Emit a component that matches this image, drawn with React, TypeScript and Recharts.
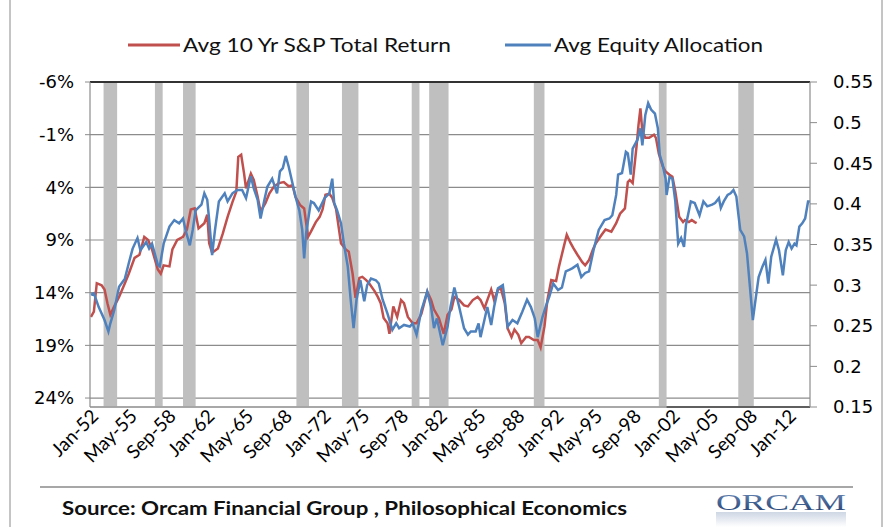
import {
  CartesianGrid,
  Line,
  LineChart,
  ReferenceArea,
  ReferenceLine,
  XAxis,
  YAxis,
} from 'recharts';

const MONTHS = ['Jan', 'Feb', 'Mar', 'Apr', 'May', 'Jun', 'Jul', 'Aug', 'Sep', 'Oct', 'Nov', 'Dec'];

const xTickLabels = [
  'Jan-52', 'May-55', 'Sep-58', 'Jan-62', 'May-65', 'Sep-68', 'Jan-72', 'May-75', 'Sep-78', 'Jan-82',
  'May-85', 'Sep-88', 'Jan-92', 'May-95', 'Sep-98', 'Jan-02', 'May-05', 'Sep-08', 'Jan-12',
];
const returnTicks = [-6, -1, 4, 9, 14, 19, 24];
const allocationTicks = [0.15, 0.2, 0.25, 0.3, 0.35, 0.4, 0.45, 0.5, 0.55];

// recession shading (start / end month)
const recessionStart = ['1953-03', '1957-08', '1960-01', '1969-10', '1973-09', '1979-09', '1981-03', '1990-03', '2000-12', '2007-10'];
const recessionEnd = ['1954-05', '1958-04', '1961-02', '1970-11', '1975-02', '1980-05', '1982-11', '1991-02', '2001-08', '2009-02'];

// Avg 10 Yr S&P Total Return (%), plotted on an inverted axis
const returnDates = [
  '1952-02', '1952-05', '1952-08', '1953-01', '1953-04', '1953-07', '1953-10', '1954-02', '1954-07', '1955-01',
  '1955-05', '1955-11', '1956-04', '1956-09', '1957-01', '1957-05', '1957-11', '1958-02', '1958-05', '1958-11',
  '1959-02', '1959-07', '1960-01', '1960-05', '1960-09', '1961-01', '1961-05', '1961-11', '1962-02', '1962-04',
  '1962-07', '1963-01', '1963-06', '1963-11', '1964-04', '1964-08', '1964-10', '1965-01', '1965-04', '1965-06',
  '1965-11', '1966-02', '1966-06', '1966-09', '1967-02', '1967-06', '1967-11', '1968-04', '1968-09', '1969-02',
  '1969-06', '1969-09', '1970-02', '1970-06', '1970-10', '1971-01', '1971-06', '1971-10', '1972-01', '1972-04',
  '1972-08', '1972-11', '1973-03', '1973-08', '1974-01', '1974-04', '1974-08', '1974-11', '1975-03', '1975-06',
  '1975-10', '1976-01', '1976-07', '1976-10', '1977-01', '1977-04', '1977-08', '1977-10', '1978-02', '1978-06',
  '1978-10', '1979-01', '1979-05', '1979-10', '1980-02', '1980-07', '1981-01', '1981-05', '1981-08', '1982-01',
  '1982-06', '1982-10', '1983-02', '1983-05', '1983-10', '1984-03', '1984-07', '1984-12', '1985-05', '1985-08',
  '1985-12', '1986-03', '1986-07', '1986-10', '1987-02', '1987-05', '1987-09', '1987-12', '1988-04', '1988-07',
  '1988-11', '1989-02', '1989-07', '1989-10', '1990-03', '1990-07', '1990-10', '1991-02', '1991-05', '1991-09',
  '1992-02', '1992-05', '1992-10', '1993-01', '1993-05', '1993-08', '1993-12', '1994-05', '1994-08', '1994-12',
  '1995-04', '1995-07', '1996-01', '1996-05', '1996-11', '1997-04', '1997-08', '1998-01', '1998-04', '1998-06',
  '1998-09', '1999-01', '1999-03', '1999-05', '1999-07', '1999-10', '2000-02', '2000-07', '2000-09', '2000-12',
  '2001-04', '2001-07', '2001-11', '2002-02', '2002-05', '2002-09', '2003-01', '2003-03', '2003-07', '2003-10',
  '2004-01', '2004-03',
];
const returnValues = [
  16.3, 15.8, 13.1, 13.3, 13.7, 15.0, 16.1, 15.3, 14.4, 13.1,
  12.2, 10.7, 10.4, 8.7, 9.0, 9.9, 11.8, 12.2, 11.4, 11.5,
  9.9, 9.0, 8.7, 8.0, 6.1, 6.0, 7.9, 7.4, 6.6, 9.3,
  10.2, 9.8, 8.4, 6.8, 5.4, 4.4, 1.1, 0.9, 2.7, 4.1,
  2.7, 3.3, 4.9, 6.3, 5.5, 4.6, 3.9, 3.6, 3.5, 3.9,
  3.8, 4.9, 5.7, 6.0, 8.7, 8.2, 7.3, 6.8, 6.1, 4.7,
  4.6, 5.0, 6.1, 9.3, 9.9, 10.1, 12.2, 14.5, 12.6, 12.5,
  12.8, 13.1, 13.9, 14.4, 15.0, 16.4, 16.9, 17.9, 15.3, 16.3,
  14.7, 15.0, 16.3, 16.9, 16.9, 16.0, 13.9, 14.7, 15.6, 16.4,
  17.9, 16.1, 15.6, 14.4, 14.7, 15.2, 15.3, 14.7, 14.4, 14.7,
  15.5, 14.7, 13.7, 14.7, 13.7, 13.6, 15.0, 17.4, 18.2, 17.5,
  18.0, 18.8, 18.2, 18.2, 18.5, 18.5, 19.2, 17.2, 14.7, 12.8,
  12.9, 11.5, 9.6, 8.5, 9.3, 9.8, 10.4, 11.1, 11.4, 10.9,
  9.9, 9.3, 8.5, 8.0, 8.2, 7.4, 6.5, 6.0, 3.5, 3.3,
  3.6, 0.1, -1.9, -3.5, -1.3, -0.7, -0.7, -1.0, -0.7, 0.8,
  2.0, 2.5, 2.8, 3.0, 4.4, 6.8, 7.3, 7.1, 7.3, 7.1,
  7.3, 7.4,
];

// Avg Equity Allocation
const allocationDates = [
  '1952-02', '1952-05', '1952-10', '1953-04', '1953-08', '1953-10', '1954-02', '1954-07', '1955-01', '1955-05',
  '1955-09', '1956-02', '1956-05', '1956-11', '1957-02', '1957-05', '1957-11', '1958-01', '1958-05', '1958-11',
  '1959-04', '1959-09', '1960-01', '1960-04', '1960-08', '1960-11', '1961-02', '1961-08', '1961-11', '1962-02',
  '1962-04', '1962-07', '1962-10', '1963-02', '1963-08', '1963-11', '1964-04', '1964-09', '1965-02', '1965-06',
  '1965-11', '1966-02', '1966-06', '1966-09', '1967-01', '1967-04', '1967-09', '1968-02', '1968-05', '1968-08',
  '1968-11', '1969-02', '1969-06', '1969-09', '1970-01', '1970-04', '1970-06', '1970-08', '1971-01', '1971-04',
  '1971-09', '1972-03', '1972-08', '1972-11', '1973-01', '1973-04', '1973-08', '1973-11', '1974-03', '1974-06',
  '1974-09', '1974-12', '1975-04', '1975-08', '1975-11', '1976-03', '1976-08', '1976-11', '1977-03', '1977-08',
  '1978-01', '1978-05', '1978-08', '1979-01', '1979-07', '1979-10', '1980-02', '1980-07', '1981-01', '1981-05',
  '1981-08', '1981-11', '1982-05', '1982-10', '1983-01', '1983-05', '1983-10', '1984-03', '1984-07', '1984-10',
  '1985-03', '1985-06', '1985-08', '1985-12', '1986-03', '1986-07', '1986-10', '1987-02', '1987-07', '1987-09',
  '1987-12', '1988-05', '1988-10', '1989-03', '1989-08', '1989-12', '1990-04', '1990-07', '1990-12', '1991-04',
  '1991-07', '1991-11', '1992-04', '1992-08', '1992-12', '1993-04', '1993-07', '1993-12', '1994-04', '1994-08',
  '1994-12', '1995-05', '1995-10', '1996-04', '1996-09', '1996-12', '1997-04', '1997-06', '1997-10', '1998-02',
  '1998-04', '1998-07', '1998-09', '1999-02', '1999-05', '1999-07', '1999-10', '2000-01', '2000-04', '2000-08',
  '2000-11', '2001-01', '2001-04', '2001-07', '2001-08', '2001-11', '2002-02', '2002-05', '2002-08', '2002-11',
  '2003-02', '2003-04', '2003-09', '2004-01', '2004-06', '2004-10', '2005-02', '2005-07', '2005-10', '2006-02',
  '2006-04', '2006-07', '2006-11', '2007-02', '2007-05', '2007-08', '2007-10', '2007-12', '2008-04', '2008-07',
  '2008-10', '2009-01', '2009-04', '2009-07', '2009-11', '2010-02', '2010-05', '2010-08', '2011-01', '2011-04',
  '2011-08', '2011-11', '2012-02', '2012-05', '2012-08', '2012-10', '2013-01', '2013-04', '2013-07', '2013-10',
  '2013-12',
];
const allocationValues = [
  0.288, 0.290, 0.273, 0.257, 0.243, 0.253, 0.269, 0.298, 0.308, 0.327,
  0.345, 0.358, 0.343, 0.353, 0.345, 0.351, 0.325, 0.323, 0.351, 0.372,
  0.380, 0.376, 0.382, 0.366, 0.349, 0.368, 0.392, 0.399, 0.413, 0.405,
  0.380, 0.337, 0.368, 0.403, 0.413, 0.403, 0.413, 0.417, 0.417, 0.407,
  0.434, 0.419, 0.405, 0.382, 0.405, 0.421, 0.431, 0.413, 0.440, 0.444,
  0.459, 0.446, 0.425, 0.409, 0.392, 0.368, 0.333, 0.364, 0.403, 0.401,
  0.392, 0.407, 0.413, 0.431, 0.401, 0.392, 0.376, 0.351, 0.323, 0.282,
  0.247, 0.282, 0.306, 0.280, 0.300, 0.308, 0.306, 0.302, 0.282, 0.265,
  0.245, 0.253, 0.247, 0.251, 0.249, 0.253, 0.239, 0.269, 0.292, 0.273,
  0.247, 0.259, 0.226, 0.249, 0.273, 0.297, 0.273, 0.247, 0.239, 0.243,
  0.243, 0.253, 0.236, 0.257, 0.273, 0.251, 0.273, 0.296, 0.300, 0.282,
  0.249, 0.257, 0.253, 0.267, 0.282, 0.273, 0.259, 0.236, 0.261, 0.276,
  0.286, 0.302, 0.294, 0.297, 0.317, 0.319, 0.321, 0.325, 0.310, 0.315,
  0.317, 0.345, 0.368, 0.380, 0.382, 0.386, 0.411, 0.436, 0.438, 0.464,
  0.462, 0.436, 0.468, 0.479, 0.493, 0.472, 0.509, 0.524, 0.516, 0.511,
  0.493, 0.460, 0.448, 0.431, 0.411, 0.433, 0.431, 0.403, 0.351, 0.358,
  0.347, 0.374, 0.403, 0.401, 0.386, 0.403, 0.397, 0.399, 0.401, 0.407,
  0.395, 0.403, 0.411, 0.413, 0.417, 0.409, 0.388, 0.368, 0.360, 0.339,
  0.298, 0.257, 0.284, 0.310, 0.323, 0.331, 0.302, 0.335, 0.356, 0.343,
  0.312, 0.343, 0.353, 0.345, 0.351, 0.349, 0.372, 0.376, 0.382, 0.403,
  0.403,
];

const monthIndex = (d: string) => {
  const [y, m] = d.split('-').map(Number);
  return (y - 1952) * 12 + (m - 1);
};
const labelIndex = (label: string) => {
  const [mon, yy] = label.split('-');
  const year = Number(yy) < 50 ? 2000 + Number(yy) : 1900 + Number(yy);
  return (year - 1952) * 12 + MONTHS.indexOf(mon);
};
const formatMonth = (i: number) =>
  `${MONTHS[i % 12]}-${String((1952 + Math.floor(i / 12)) % 100).padStart(2, '0')}`;

const returnData = returnDates.map((d, i) => ({ m: monthIndex(d), v: returnValues[i] }));
const allocationData = allocationDates.map((d, i) => ({ m: monthIndex(d), v: allocationValues[i] }));
const xTicks = xTickLabels.map(labelIndex);

const GRID = '#8c8c8c';
const RED = '#c0504d';
const BLUE = '#4f81bd';
const axisTick = { fontSize: 18, fontFamily: 'DejaVu Sans', fill: '#000' };

const Overlay = () => (
  <svg
    width={888}
    height={527}
    style={{ position: 'absolute', left: 0, top: 0, pointerEvents: 'none' }}
  >
    <defs>
      <linearGradient id="orcam" x1="0" y1="0" x2="0" y2="1">
        <stop offset="0%" stopColor="#6d8bb8" />
        <stop offset="100%" stopColor="#1d3b6e" />
      </linearGradient>
      <linearGradient id="orcamGlow" x1="0" y1="0" x2="0" y2="1">
        <stop offset="0%" stopColor="#5b78a6" stopOpacity={0.3} />
        <stop offset="100%" stopColor="#5b78a6" stopOpacity={0} />
      </linearGradient>
    </defs>
    <line x1={10} y1={0} x2={10} y2={527} stroke="#8a8a8a" />
    <line x1={882} y1={0} x2={882} y2={527} stroke="#8a8a8a" />

    <line x1={128} y1={45} x2={180} y2={45} stroke={RED} strokeWidth={3} />
    <text x={183} y={52} fontFamily="Lato" fontSize={19} fill="#111" textLength={268} lengthAdjust="spacingAndGlyphs">
      Avg 10 Yr S&amp;P Total Return
    </text>
    <line x1={505} y1={45} x2={551} y2={45} stroke={BLUE} strokeWidth={3} />
    <text x={554} y={52} fontFamily="Lato" fontSize={19} fill="#111" textLength={209} lengthAdjust="spacingAndGlyphs">
      Avg Equity Allocation
    </text>

    <line x1={40} y1={487} x2={853} y2={487} stroke="#8a8a8a" strokeWidth={1.5} />
    <text x={62} y={515} fontFamily="Lato" fontWeight="bold" fontSize={19} fill="#111" textLength={565} lengthAdjust="spacingAndGlyphs">
      Source: Orcam Financial Group , Philosophical Economics
    </text>
    <text x={716} y={510} fontFamily="Liberation Serif" fontSize={23} fill="url(#orcam)" textLength={130} lengthAdjust="spacingAndGlyphs">
      ORCAM
    </text>
    <rect x={716} y={512} width={130} height={15} fill="url(#orcamGlow)" />
  </svg>
);

export default function App() {
  return (
    <div style={{ position: 'absolute', left: 0, top: 0, width: 888, height: 527, background: '#fff' }}>
      <LineChart width={888} height={480} margin={{ top: 82, right: 8, bottom: 3, left: 20 }}>
        <CartesianGrid yAxisId="left" vertical={false} stroke={GRID} strokeWidth={1.2} />
        <ReferenceLine yAxisId="left" y={-6} stroke="#000" strokeWidth={1.5} />
        {recessionStart.map((s, i) => (
          <ReferenceArea
            key={s}
            yAxisId="left"
            x1={monthIndex(s)}
            x2={monthIndex(recessionEnd[i])}
            fill="#bfbfbf"
            fillOpacity={1}
            stroke="none"
          />
        ))}
        <ReferenceLine
          yAxisId="left"
          segment={[{ x: 595, y: 24.85 }, { x: 743, y: 24.85 }]}
          stroke="#000"
          strokeWidth={1.5}
        />
        <XAxis
          type="number"
          dataKey="m"
          domain={[0, 743]}
          allowDataOverflow
          ticks={xTicks}
          interval={0}
          tickFormatter={formatMonth}
          angle={-45}
          textAnchor="end"
          height={70}
          tickLine={false}
          tickSize={0}
          tickMargin={1}
          axisLine={{ stroke: GRID, strokeWidth: 1.2 }}
          tick={{ fontSize: 19, fontFamily: 'Lato', fill: '#000' }}
        />
        <YAxis
          yAxisId="left"
          type="number"
          reversed
          domain={[-6, 24.85]}
          allowDataOverflow
          ticks={returnTicks}
          interval={0}
          tickFormatter={(v: number) => `${v}%`}
          width={70}
          tickSize={5}
          tickMargin={11}
          tickLine={{ stroke: GRID }}
          axisLine={{ stroke: GRID, strokeWidth: 1.2 }}
          tick={axisTick}
        />
        <YAxis
          yAxisId="right"
          orientation="right"
          type="number"
          domain={[0.15, 0.55]}
          allowDataOverflow
          ticks={allocationTicks}
          interval={0}
          tickFormatter={(v: number) => String(v)}
          width={70}
          tickSize={7}
          tickMargin={16}
          tickLine={{ stroke: GRID }}
          axisLine={{ stroke: GRID, strokeWidth: 1.2 }}
          tick={axisTick}
        />
        <Line
          yAxisId="left"
          data={returnData}
          dataKey="v"
          type="linear"
          stroke={RED}
          strokeWidth={2.5}
          dot={false}
          activeDot={false}
          isAnimationActive={false}
        />
        <Line
          yAxisId="right"
          data={allocationData}
          dataKey="v"
          type="linear"
          stroke={BLUE}
          strokeWidth={2.5}
          dot={false}
          activeDot={false}
          isAnimationActive={false}
        />
      </LineChart>
      <Overlay />
    </div>
  );
}
